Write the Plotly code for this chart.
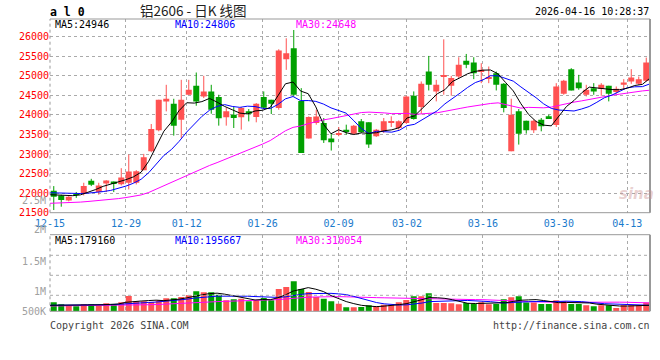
import plotly.graph_objects as go

# ---------------- data ----------------
dates = ["12-15", "12-16", "12-17", "12-18", "12-19", "12-22", "12-23", "12-24", "12-25", "12-26",
         "12-29", "12-30", "12-31", "01-05", "01-06", "01-07", "01-08", "01-09",
         "01-12", "01-13", "01-14", "01-15", "01-16", "01-19", "01-20", "01-21", "01-22", "01-23",
         "01-26", "01-27", "01-28", "01-29", "01-30", "02-02", "02-03", "02-04", "02-05", "02-06",
         "02-09", "02-10", "02-11", "02-12", "02-13", "02-24", "02-25", "02-26", "02-27",
         "03-02", "03-03", "03-04", "03-05", "03-06", "03-09", "03-10", "03-11", "03-12", "03-13",
         "03-16", "03-17", "03-18", "03-19", "03-20", "03-23", "03-24", "03-25", "03-26", "03-27",
         "03-30", "03-31", "04-01", "04-02", "04-03", "04-07", "04-08", "04-09", "04-10",
         "04-13", "04-14", "04-15", "04-16"]

opens = [22061, 21942, 21810, 21975, 21993, 22315, 22027, 22247, 22298, 22230,
         22264, 22264, 22587, 23071, 23606, 24344, 24285, 23878, 24514, 24744,
         24472, 24600, 24455, 23937, 24005, 23937, 24090, 23946, 24455, 24387,
         24175, 25423, 25703, 24353, 23394, 23793, 23793, 23394, 23496, 23623,
         23521, 23835, 23810, 23453, 23580, 23810, 23665, 23793, 24489, 24200,
         25108, 24600, 24981, 24744, 24981, 25381, 25338, 25108, 24938, 25066,
         24794, 23071, 24090, 23852, 23606, 23878, 23963, 23742, 24540, 25168,
         24829, 24514, 24684, 24659, 24744, 24582, 24769, 24854, 24794, 24871]
highs = [22180, 21960, 21930, 22030, 22265, 22366, 22265, 22330, 22298, 22638,
         22986, 22587, 23003, 23767, 24387, 24769, 24412, 24896, 24896, 25083,
         24998, 24769, 24514, 24175, 24200, 24200, 24150, 24302, 24600, 24387,
         25677, 25958, 26170, 24684, 23962, 24132, 23920, 23538, 23690, 23750,
         23742, 23895, 23810, 23640, 23920, 23963, 23861, 24489, 24600, 24854,
         25507, 24896, 25932, 24998, 25474, 25558, 25474, 25321, 25236, 25108,
         24811, 24413, 24150, 23852, 23878, 23920, 24005, 24811, 24896, 25194,
         25024, 24769, 24811, 24811, 24744, 24727, 24914, 25168, 24981, 25465]
lows = [21568, 21653, 21790, 21880, 21942, 22180, 21960, 22027, 22027, 22197,
        22095, 22222, 22587, 23045, 23580, 24090, 23470, 23410, 24514, 24234,
        24430, 24030, 23725, 23725, 23665, 23623, 23835, 23810, 24150, 24022,
        24132, 25151, 24472, 23029, 23394, 23750, 23283, 23088, 23453, 23496,
        23496, 23538, 23156, 23436, 23538, 23691, 23623, 23776, 23878, 24030,
        24625, 24345, 24515, 24489, 24940, 25194, 24914, 24811, 24811, 24625,
        24065, 23071, 23241, 23521, 23538, 23580, 23895, 23691, 24514, 24625,
        24642, 24472, 24514, 24489, 24345, 24540, 24642, 24794, 24769, 24854]
closes = [21908, 21823, 21910, 21955, 22180, 22214, 22197, 22324, 22247, 22400,
          22553, 22562, 22918, 23640, 24387, 24412, 23725, 24387, 24642, 24344,
          24600, 24132, 23912, 24090, 23920, 24175, 24030, 24285, 24183, 24285,
          25643, 25576, 24514, 23029, 23946, 23962, 23351, 23300, 23538, 23580,
          23725, 23555, 23241, 23623, 23835, 23835, 23835, 24472, 23895, 24794,
          24769, 24769, 24998, 24940, 25279, 25279, 25066, 25151, 24965, 24769,
          24175, 24005, 23521, 23606, 23852, 23708, 23912, 24727, 24871, 24625,
          24684, 24642, 24600, 24769, 24540, 24667, 24828, 24956, 24913, 25338]
volumes = [354000, 275000, 210000, 197000, 275000, 275000, 223000, 314000, 275000, 354000,
           603000, 393000, 393000, 367000, 432000, 511000, 511000, 563000, 629000, 786000,
           747000, 747000, 655000, 432000, 472000, 498000, 393000, 432000, 524000, 432000,
           878000, 956000, 1179000, 878000, 760000, 563000, 498000, 393000, 301000, 157000,
           157000, 170000, 236000, 197000, 262000, 262000, 354000, 445000, 590000, 590000,
           707000, 328000, 328000, 314000, 275000, 328000, 288000, 354000, 275000, 288000,
           472000, 550000, 590000, 341000, 341000, 288000, 288000, 432000, 393000, 288000,
           288000, 236000, 197000, 236000, 236000, 131000, 236000, 236000, 236000, 341000]

# moving-average values at the start of the window (earlier data not shown)
ma5_head = [21960, 21950, 21940, 21935]
ma10_head = [22010, 22005, 21995, 21990, 21990, 22000, 22015, 22040, 22070]
ma30_head = [21740, 21743, 21749, 21756, 21771, 21787, 21802, 21821, 21838, 21860,
             21887, 21915, 21954, 22017, 22105, 22194, 22261, 22349, 22446, 22532,
             22628, 22707, 22780, 22858, 22931, 23012, 23088, 23173, 23255]
vol_ma5_head = [236000, 236000, 236000, 240000]
vol_ma10_head = [236000, 236000, 236000, 236000, 242000, 249000, 249000, 255000, 262000]
vol_ma30_head = [210000, 212000, 212000, 212000, 214000, 216000, 216000, 220000, 223000, 227000,
                 240000, 246000, 253000, 258000, 265000, 275000, 286000, 297000, 310000, 330000,
                 348000, 365000, 381000, 388000, 397000, 406000, 413000, 421000, 431000]

label_dates = ["12-15", "12-29", "01-12", "01-26", "02-09", "03-02", "03-16", "03-30", "04-13"]
price_ticks = [21500, 22000, 22500, 23000, 23500, 24000, 24500, 25000, 25500, 26000]
price_top_label = 26500
ma_values = [("MA5", 24946), ("MA10", 24806), ("MA30", 24648)]
vol_ma_values = [("MA5", 179160), ("MA10", 195667), ("MA30", 310054)]
vol_axis_labels = ["2M", "1.5M", "1M", "500K"]
stray_label = "2.5M"
title_text = "铝2606 - 日K 线图"
code_text = "a l 0"
timestamp = "2026-04-16 10:28:37"
copyright_text = "Copyright 2026 SINA.COM"
url_text = "http://finance.sina.com.cn"

# ---------------- derived ----------------
N = len(dates)
xc = [i + 0.5 for i in range(N)]                 # candle centres
xm = [i * N / (N - 1) for i in range(N)]          # MA line points (edge to edge)
tickvals = [dates.index(d) * N / (N - 1) for d in label_dates]


def moving_average(values, n, head):
    out = list(head)
    for i in range(n - 1, len(values)):
        out.append(sum(values[i - n + 1:i + 1]) / n)
    return out


ma5 = moving_average(closes, 5, ma5_head)
ma10 = moving_average(closes, 10, ma10_head)
ma30 = moving_average(closes, 30, ma30_head)
vma5 = moving_average(volumes, 5, vol_ma5_head)
vma10 = moving_average(volumes, 10, vol_ma10_head)
vma30 = moving_average(volumes, 30, vol_ma30_head)

UP = "#ff5252"
DOWN = "#00a000"
up = [c >= o for o, c in zip(opens, closes)]
colors = [UP if u else DOWN for u in up]

body_base = [min(o, c) for o, c in zip(opens, closes)]
body_len = [max(abs(c - o), 22) for o, c in zip(opens, closes)]

MONO = "DejaVu Sans Mono"
W, H = 660, 360
L_PX, R_PX = 50, 650
MAIN_T, MAIN_B = 19, 212.7
VOL_T, VOL_B = 234.7, 311.3


def px(x):
    return x / W


def py(y):
    return 1 - y / H


fig = go.Figure()

# wicks
for flag, col in ((True, UP), (False, DOWN)):
    wx, wy = [], []
    for i in range(N):
        if up[i] == flag:
            wx += [xc[i], xc[i], None]
            wy += [lows[i], highs[i], None]
    fig.add_trace(go.Scatter(x=wx, y=wy, mode="lines", line=dict(color=col, width=1),
                             hoverinfo="skip", showlegend=False))

# bodies
fig.add_trace(go.Bar(x=xc, y=body_len, base=body_base, width=0.8, marker=dict(color=colors, line=dict(width=0)),
                     showlegend=False, hoverinfo="skip"))

# price MAs
for series, col in ((ma30, "#ff00ff"), (ma10, "#0000ff"), (ma5, "#000000")):
    fig.add_trace(go.Scatter(x=xm, y=series, mode="lines", line=dict(color=col, width=1),
                             hoverinfo="skip", showlegend=False))

# volume
fig.add_trace(go.Bar(x=xc, y=volumes, width=0.8, marker=dict(color=colors, line=dict(width=0)),
                     xaxis="x2", yaxis="y2", showlegend=False, hoverinfo="skip"))
for series, col in ((vma30, "#ff00ff"), (vma10, "#0000ff"), (vma5, "#000000")):
    fig.add_trace(go.Scatter(x=xm, y=series, mode="lines", line=dict(color=col, width=1),
                             xaxis="x2", yaxis="y2", hoverinfo="skip", showlegend=False))

grid = dict(showgrid=True, gridcolor="#aaaaaa", griddash="dot", gridwidth=1, automargin=False)

fig.update_layout(
    width=W, height=H, margin=dict(l=0, r=0, t=0, b=0, autoexpand=False),
    paper_bgcolor="white", plot_bgcolor="white",
    showlegend=False, barmode="overlay",
    xaxis=dict(domain=[px(L_PX), px(R_PX)], range=[0, N], anchor="y",
               tickmode="array", tickvals=tickvals, ticktext=label_dates,
               tickfont=dict(family=MONO, size=10, color="#1a7acc"), ticklabelstandoff=3,
               ticks="", zeroline=False, showline=False, **grid),
    yaxis=dict(domain=[py(MAIN_B), py(MAIN_T)], range=[21500, 26451], anchor="x",
               tickmode="array", tickvals=price_ticks, ticktext=[str(v) for v in price_ticks],
               tickfont=dict(family=MONO, size=10, color="#ff0000"),
               ticks="", zeroline=False, showline=False, **grid),
    xaxis2=dict(domain=[px(L_PX), px(R_PX)], range=[0, N], anchor="y2",
                tickmode="array", tickvals=tickvals, showticklabels=False,
                ticks="", zeroline=False, showline=False, **grid),
    yaxis2=dict(domain=[py(VOL_B), py(VOL_T)], range=[0, 3.01e6], anchor="x2", automargin=False,
                showticklabels=False, showgrid=False, zeroline=False, showline=False),
)

shapes = []
border = dict(color="#999999", width=1)
for top, bot in ((MAIN_T, MAIN_B), (VOL_T, VOL_B)):
    shapes.append(dict(type="line", xref="paper", yref="paper", x0=px(L_PX), x1=px(R_PX),
                       y0=py(top), y1=py(top), line=border))
    shapes.append(dict(type="line", xref="paper", yref="paper", x0=px(L_PX), x1=px(R_PX),
                       y0=py(bot), y1=py(bot), line=border))
    shapes.append(dict(type="line", xref="paper", yref="paper", x0=px(R_PX), x1=px(R_PX),
                       y0=py(bot), y1=py(top), line=dict(color="#999999", width=2)))
    shapes.append(dict(type="line", xref="paper", yref="paper", x0=px(L_PX), x1=px(L_PX),
                       y0=py(bot), y1=py(top), line=dict(color="#999999", width=1, dash="dot")))
for gy in (255.3, 275.3, 295.3):
    shapes.append(dict(type="line", xref="paper", yref="paper", x0=px(L_PX), x1=px(R_PX),
                       y0=py(gy), y1=py(gy), line=dict(color="#aaaaaa", width=1, dash="dot")))
fig.update_layout(shapes=shapes)

ann = []


def text(x, y, s, color="#000000", size=10, xanchor="left", family=MONO, **kw):
    ann.append(dict(x=px(x), y=py(y), xref="paper", yref="paper", text=s, showarrow=False,
                    xanchor=xanchor, yanchor="middle", borderpad=0,
                    font=dict(family=family, size=size, color=color), **kw))


text(49, 12, "<b>" + code_text + "</b>", size=11.5)
text(139, 9.5, title_text, family="Noto Sans CJK SC", size=13.5, color="#222222")
text(650, 12, timestamp, xanchor="right")
ann.append(dict(x=px(47), y=price_top_label, xref="paper", yref="y", text=str(price_top_label),
                showarrow=False, xanchor="right", yanchor="middle", borderpad=0,
                font=dict(family=MONO, size=10, color="#ff0000")))
ma_cols = ["#000000", "#0000ff", "#ff00ff"]
ma_x = [54, 174, 295]
for (name, val), col, x in zip(ma_values, ma_cols, ma_x):
    text(x, 24.5, f"{name}:{val}", color=col)
for (name, val), col, x in zip(vol_ma_values, ma_cols, ma_x):
    text(x, 240, f"{name}:{val}", color=col)
text(47, 200.5, stray_label, color="#a0a0a0", xanchor="right")
for s, y in zip(vol_axis_labels, (229.5, 261, 291, 311)):
    text(47, y, s, color="#a0a0a0", xanchor="right")
text(49, 325, copyright_text, color="#444444")
text(651, 325, url_text, color="#444444", xanchor="right")
text(636, 194, "<b><i>sina</i></b>", color="rgba(205,150,150,0.45)", size=15, xanchor="center",
     family="DejaVu Sans")
fig.update_layout(annotations=ann)

fig.write_html("out.html", config={"displayModeBar": False},
               post_script="document.body.style.margin='0';document.body.style.padding='0';")
